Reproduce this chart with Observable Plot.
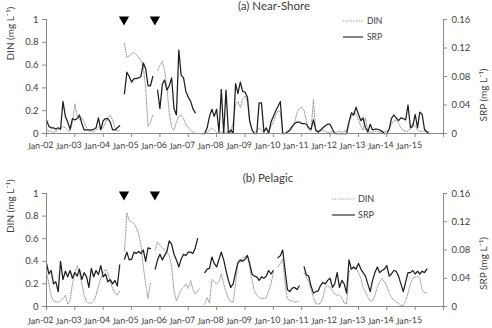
<!DOCTYPE html>
<html><head><meta charset="utf-8">
<script src="https://cdn.jsdelivr.net/npm/d3@7"></script>
<script src="https://cdn.jsdelivr.net/npm/@observablehq/plot@0.6"></script>
<style>
body{margin:0;background:#fff;}
#wrap{position:relative;width:492px;height:328px;overflow:hidden;background:#fff;}
#wrap > div > svg, #wrap > svg{display:block}
.leg{position:absolute;left:0;top:0;pointer-events:none}
</style></head><body><div id="wrap"></div>
<script>
// ---------- data ----------
const firstMonth = "2002-01-01";          // monthly series start
const xStart = "2002-01-01", xEnd = "2016-01-01";
const yearTicks = ["2002","2003","2004","2005","2006","2007","2008","2009","2010","2011","2012","2013","2014","2015","2016"];
const tickLabels = ["Jan-02","Jan-03","Jan-04","Jan-05","Jan-06","Jan-07","Jan-08","Jan-09","Jan-10","Jan-11","Jan-12","Jan-13","Jan-14","Jan-15"];
const dinTicks = [0, 0.2, 0.4, 0.6, 0.8, 1];
const srpTicks = [0, 0.04, 0.08, 0.12, 0.16];
const dinAxisMax = 1, srpAxisMax = 0.16;
const eventDates = ["2004-09-25", "2005-10-28"];
const titles = ["(a) Near-Shore", "(b) Pelagic"];
const seriesNames = ["DIN", "SRP"];

// Near-shore DIN (mg/L), monthly from Jan-02
const nsDIN = [
0.04,0.02,0.02,0.01,0.02,0.03,0.05,0.06,0.05,0.03,0.02,0.10,
0.26,0.15,0.12,0.14,0.10,0.05,0.02,0.02,0.02,0.03,0.05,0.04,
0.05,0.10,0.14,0.16,0.12,0.05,0.02,0.03,null,0.79,0.67,0.68,
0.70,0.71,0.69,0.67,0.64,0.58,0.40,0.06,0.10,0.16,null,0.55,
0.60,0.63,0.56,0.40,0.18,0.05,0.03,0.10,0.15,0.16,0.13,0.08,
0.05,0.03,0.01,0,0,0,0,0,0.01,0.03,0.05,0.03,
0.01,0,0.02,0,0.02,0,0.01,0.10,0.25,0.28,0.23,0.30,
0.33,0.28,0.12,0.03,0.01,0.02,0.05,0.03,0.01,0.04,0.02,0.06,
0.10,0.16,0.20,0.19,0.01,0,0.02,0.02,0.05,0.10,0.18,0.22,
0.23,0.20,0.12,0.03,0.02,0.30,0.02,0.01,0.02,0.03,0.02,0.01,
0.01,0.02,0.01,0.01,0.02,0.01,0.02,0.02,0.11,0.14,0.19,0.17,
0.12,0.06,0.03,0.14,0.02,0.01,0.01,0.02,0.02,0.01,0.01,0.02,
0.02,0.04,0.08,0.11,0.12,0.09,0.05,0.03,0.02,0.02,0.05,0.09,
0.07,0.03,0.02,0.02,0.02,0.02,0.02];
// Near-shore SRP (mg/L)
const nsSRP = [
0.019,0.010,0.008,0.008,0.006,0.008,0.006,0.045,0.024,0.016,0.006,0.021,
0.019,0.021,0.026,0.014,0.005,0.005,0.005,0.005,0.006,0.008,0.022,0.005,
0.018,0.021,0.021,0.016,0.005,0.005,0.008,0.011,null,0.056,0.086,0.080,
0.072,0.077,0.077,0.078,0.080,0.099,0.091,0.067,0.067,0.080,null,0.061,
0.035,0.069,0.075,0.061,0.067,0.078,0.035,0.026,0.117,0.082,0.078,0.059,
0.051,0.045,0.035,0.029,null,null,0,0,0.008,0.024,0.034,0.024,
0.034,0.002,0.062,0,0.061,0,0.005,0,0.070,0.056,0.072,0.059,
0.058,0.051,0.018,0.005,0,0,0.043,0.043,0.002,0.008,0,0.016,
0.024,0.032,0.038,0.045,0,0,0.002,0.005,0.010,0.014,0.016,0.016,
0.014,0.014,0.013,0.008,0.006,0.019,0.005,0.002,0.005,0.008,0.011,0.013,
0.013,0.006,0,0,0,0,0,0,0.016,0.029,0.026,0.037,
0.027,0.018,0.022,0.008,0.002,0.013,0.005,0.006,0.006,0.005,0.003,0,
0,0.006,0.021,0.026,0.022,0.018,0.022,0.021,0.019,0.040,0.008,0.010,
0.027,0.008,0.030,0.027,0.006,0.002,0];
// Pelagic DIN (mg/L)
const pgDIN = [
0.30,0.20,0.10,0.05,0.04,0.04,0.05,0.07,0.10,0.02,0.05,0.20,
0.30,0.36,0.30,0.20,0.10,0.04,0.03,0.03,0.05,0.10,0.18,0.25,
0.30,0.33,0.30,0.22,0.16,0.12,0.10,0.14,null,0.49,0.83,0.76,
0.75,0.73,0.70,0.64,0.55,0.35,0.20,0.07,0.21,null,0.50,0.57,
0.54,0.52,0.50,0.48,0.45,0.35,0.14,0.05,0.10,0.15,0.17,0.20,
0.16,0.23,0.15,0.11,0.14,0.16,null,0.02,0.08,0.03,0.24,0.22,
0.20,0.22,0.29,0.20,0.13,0.07,0.04,0.04,0.20,0.39,0.39,0.43,
0.44,0.46,0.35,0.23,0.14,0.10,0.08,0.07,0.07,0.08,0.14,0.20,
0.30,null,0.35,0.38,0.42,0.20,0.07,0.05,0.05,0.04,0.04,0.05,
null,0.30,0.26,0.22,0.15,0.08,0.03,0.02,0.03,0.08,0.17,0.18,
0.17,0.14,0.11,0.10,0.10,0.08,0.03,0.02,0.30,0.34,0.33,0.34,
0.30,0.25,0.17,0.13,0.08,0.05,0.05,0.10,0.17,0.22,0.25,0.22,
0.18,0.12,0.08,0.06,0.04,0.03,0.01,0.01,0.05,0.12,0.20,0.25,
0.26,0.27,0.25,0.15,0.12,0.12,null];
// Pelagic SRP (mg/L)
const pgSRP = [
0.061,0.046,0.051,0.032,0.035,0.021,0.064,0.038,0.050,0.042,0.051,0.040,
0.048,0.043,0.053,0.038,0.048,0.042,0.027,0.054,0.042,0.051,0.045,0.058,
0.042,0.046,0.035,0.038,0.032,0.037,0.029,0.059,null,0.067,0.077,0.066,
0.067,0.077,0.075,0.078,0.075,0.080,0.064,0.083,0.082,null,0.053,0.066,
0.074,0.066,0.072,0.078,0.093,0.088,0.074,0.066,0.056,0.067,0.074,0.072,
0.077,0.077,0.075,0.083,0.096,null,null,0.048,0.053,0.054,0.070,0.061,
0.056,0.067,0.077,0.066,0.051,0.037,0.027,0.032,0.048,0.062,0.066,0.064,
0.067,0.072,0.061,0.046,0.043,0.042,0.037,0.042,0.040,0.043,0.051,0.046,
0.051,null,0.069,0.072,0.080,0.051,0.024,0.021,0.026,0.027,0.024,0.029,
null,0.056,0.045,0.043,0.029,0.019,0.021,0.022,0.030,0.034,0.032,0.037,
0.040,0.027,0.032,0.048,0.027,0.037,0.032,0.019,0.066,0.053,0.056,0.053,
0.061,0.053,0.048,0.043,0.032,0.021,0.037,0.048,0.056,0.048,0.051,0.053,
0.058,0.043,0.046,0.051,0.050,0.043,0.032,0.021,0.035,0.048,0.048,0.051,
0.046,0.050,0.046,0.050,0.048,0.053,null];

// ---------- styling ----------
const FONT = "Lato, 'Open Sans', 'DejaVu Sans', sans-serif";
const axisColor = "#8a8a8a", textColor = "#404040";
const dinColor = "#9c9c9c", srpColor = "#1e1e1e";
const xDomain = [new Date(xStart), new Date(xEnd)];
const start = new Date(firstMonth);

const downTriangle = {
  draw(context, size) {
    const s = Math.sqrt(size / (Math.sqrt(3) / 4));
    const h = s * Math.sqrt(3) / 2;
    context.moveTo(-s / 2, -h / 3);
    context.lineTo(s / 2, -h / 3);
    context.lineTo(0, 2 * h / 3);
    context.closePath();
  }
};

function panel(cfg) {
  const rows = cfg.din.map((v, i) => ({date: d3.utcMonth.offset(start, i), din: v, srp: cfg.srp[i]}));
  const tickRows = tickLabels.map((label, i) => ({date: new Date(yearTicks[i] + "-01-01"), label}));
  return Plot.plot({
    width: 492, height: 164,
    marginLeft: 46, marginRight: 49, marginTop: cfg.mt, marginBottom: cfg.mb,
    x: {type: "utc", domain: xDomain},
    y: {domain: [0, dinAxisMax]},
    style: {fontFamily: FONT, fontSize: "9.5px", color: textColor, background: "white", overflow: "visible"},
    marks: [
      Plot.lineY(rows, {x: "date", y: "din", stroke: dinColor, strokeWidth: 1, strokeDasharray: "1.3,1.3"}),
      Plot.lineY(rows, {x: "date", y: d => d.srp == null ? NaN : d.srp / srpAxisMax, stroke: srpColor, strokeWidth: 1.25}),
      Plot.ruleY([0], {stroke: axisColor}),
      Plot.ruleX(xDomain, {stroke: axisColor}),
      Plot.axisY({anchor: "left", ticks: dinTicks, tickSize: 4, tickPadding: 4, tickFormat: d => String(d), stroke: axisColor, fill: textColor, label: null}),
      Plot.axisY({anchor: "right", ticks: srpTicks.map(s => s / srpAxisMax), tickSize: 3, tickPadding: 5,
        tickFormat: d => d === 0 ? "0" : (d * srpAxisMax).toFixed(2), stroke: axisColor, fill: textColor, label: null}),
      Plot.axisX({ticks: yearTicks.map(y => new Date(y + "-01-01")), tickSize: 4, tickFormat: () => "", stroke: axisColor, label: null}),
      Plot.text(tickRows, {x: "date", text: "label", frameAnchor: "bottom", dy: cfg.labelDy, dx: -6, rotate: -4, fill: textColor, fontSize: 8.8}),
      Plot.dot(eventDates, {x: d => new Date(d), frameAnchor: "top", dy: cfg.triDy, symbol: downTriangle, r: 3.8, fill: "#000", stroke: null}),
      Plot.text([cfg.title], {frameAnchor: "top", dx: cfg.titleDx, dy: cfg.titleDy, fontSize: 11.5, fill: textColor}),
      Plot.text(["DIN (mg L⁻¹)"], {frameAnchor: "left", dx: -36, dy: cfg.dinLabelDy, rotate: -90, fontSize: 10, fill: textColor}),
      Plot.text(["SRP (mg L⁻¹)"], {frameAnchor: "right", dx: 40, dy: cfg.srpLabelDy, rotate: -90, fontSize: 10, fill: textColor})
    ]
  });
}

const wrap = document.getElementById("wrap");
wrap.appendChild(panel({din: nsDIN, srp: nsSRP, title: titles[0], mt: 19, mb: 31, labelDy: 15, triDy: 0,
  titleDx: 29, titleDy: -18, dinLabelDy: -16, srpLabelDy: -8}));
wrap.appendChild(panel({din: pgDIN, srp: pgSRP, title: titles[1], mt: 29, mb: 22, labelDy: 17, triDy: 1,
  titleDx: 23, titleDy: -20, dinLabelDy: -17, srpLabelDy: -13}));

// legend overlay
const ns = "http://www.w3.org/2000/svg";
const leg = document.createElementNS(ns, "svg");
leg.setAttribute("class", "leg"); leg.setAttribute("width", 492); leg.setAttribute("height", 328);
const legendSpec = [
  {x1: 343, x2: 363, y: 21, tx: 367, fs: 8.5},
  {x1: 332, x2: 355, y: 199, tx: 358, fs: 9}
];
legendSpec.forEach(p => {
  seriesNames.forEach((name, k) => {
    const y = p.y + k * 16;
    const ln = document.createElementNS(ns, "line");
    ln.setAttribute("x1", p.x1); ln.setAttribute("x2", p.x2); ln.setAttribute("y1", y); ln.setAttribute("y2", y);
    ln.setAttribute("stroke", k === 0 ? dinColor : srpColor);
    ln.setAttribute("stroke-width", k === 0 ? 1 : 1.1);
    if (k === 0) ln.setAttribute("stroke-dasharray", "1.3,1.3");
    leg.appendChild(ln);
    const t = document.createElementNS(ns, "text");
    t.setAttribute("x", p.tx); t.setAttribute("y", y); t.setAttribute("dy", "0.35em");
    t.setAttribute("font-family", FONT); t.setAttribute("font-size", p.fs); t.setAttribute("fill", textColor);
    t.textContent = name;
    leg.appendChild(t);
  });
});
wrap.appendChild(leg);
</script></body></html>
